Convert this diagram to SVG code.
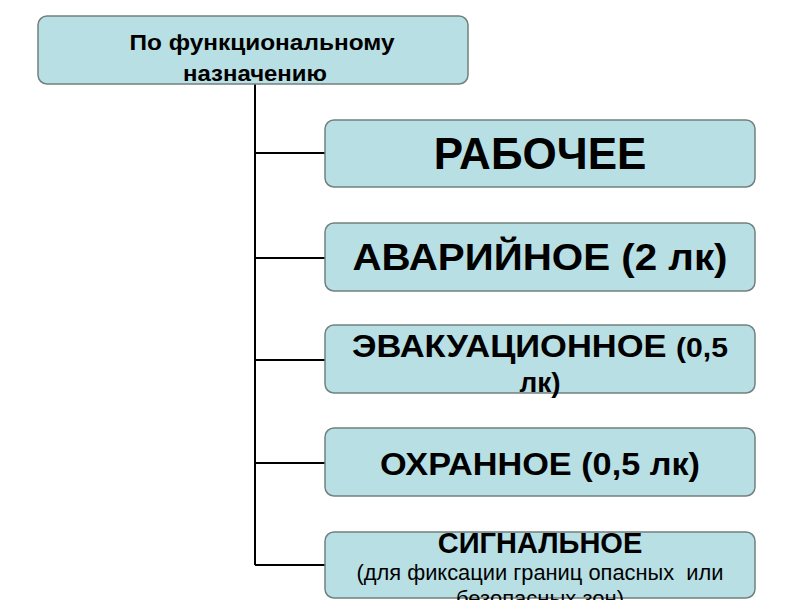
<svg xmlns="http://www.w3.org/2000/svg" width="800" height="600" viewBox="0 0 800 600">
<style>
.box{fill:#b8dfe3;stroke:#72807f;stroke-width:1.5}
.t{font-family:"Liberation Sans",Arial,sans-serif;font-weight:bold;fill:#000;text-anchor:middle}
.n{font-family:"Liberation Sans",Arial,sans-serif;fill:#000;text-anchor:middle}
.c{fill:none;stroke:#000;stroke-width:2}
</style>
<rect width="800" height="600" fill="#fff"/>
<g id="connectors">
<path class="c" d="M255 84V565M255 153H325M255 258H325M255 360H325M255 463H325M255 565H325"/>
</g>
<g id="root">
<rect class="box" x="38" y="16" width="430" height="68" rx="9"/>
<text class="t" x="262" y="50" font-size="22" textLength="265" lengthAdjust="spacingAndGlyphs">По функциональному</text>
<text class="t" x="255" y="81" font-size="22" textLength="144" lengthAdjust="spacingAndGlyphs">назначению</text>
</g>
<g id="n1">
<rect class="box" x="325" y="120" width="430" height="67" rx="9"/>
<text class="t" x="540" y="169" font-size="44">РАБОЧЕЕ</text>
</g>
<g id="n2">
<rect class="box" x="325" y="223" width="430" height="68" rx="9"/>
<text class="t" x="540" y="270" font-size="36" textLength="375" lengthAdjust="spacingAndGlyphs">АВАРИЙНОЕ (2 лк)</text>
</g>
<g id="n3">
<rect class="box" x="325" y="325" width="430" height="68" rx="9"/>
<text class="t" x="540" y="357" font-size="32" textLength="376" lengthAdjust="spacingAndGlyphs">ЭВАКУАЦИОННОЕ <tspan font-size="28">(0,5</tspan></text>
<text class="t" x="540" y="392" font-size="28">лк)</text>
</g>
<g id="n4">
<rect class="box" x="325" y="428" width="430" height="68" rx="9"/>
<text class="t" x="540" y="475" font-size="32" textLength="320" lengthAdjust="spacingAndGlyphs">ОХРАННОЕ (0,5 лк)</text>
</g>
<g id="n5">
<rect class="box" x="325" y="532" width="430" height="66" rx="9"/>
<text class="t" x="540" y="553" font-size="29">СИГНАЛЬНОЕ</text>
<text class="n" x="540" y="580" font-size="22" xml:space="preserve" textLength="367" lengthAdjust="spacingAndGlyphs">(для фиксации границ опасных  или</text>
<text class="n" x="540" y="606" font-size="22">безопасных зон)</text>
</g>
</svg>
